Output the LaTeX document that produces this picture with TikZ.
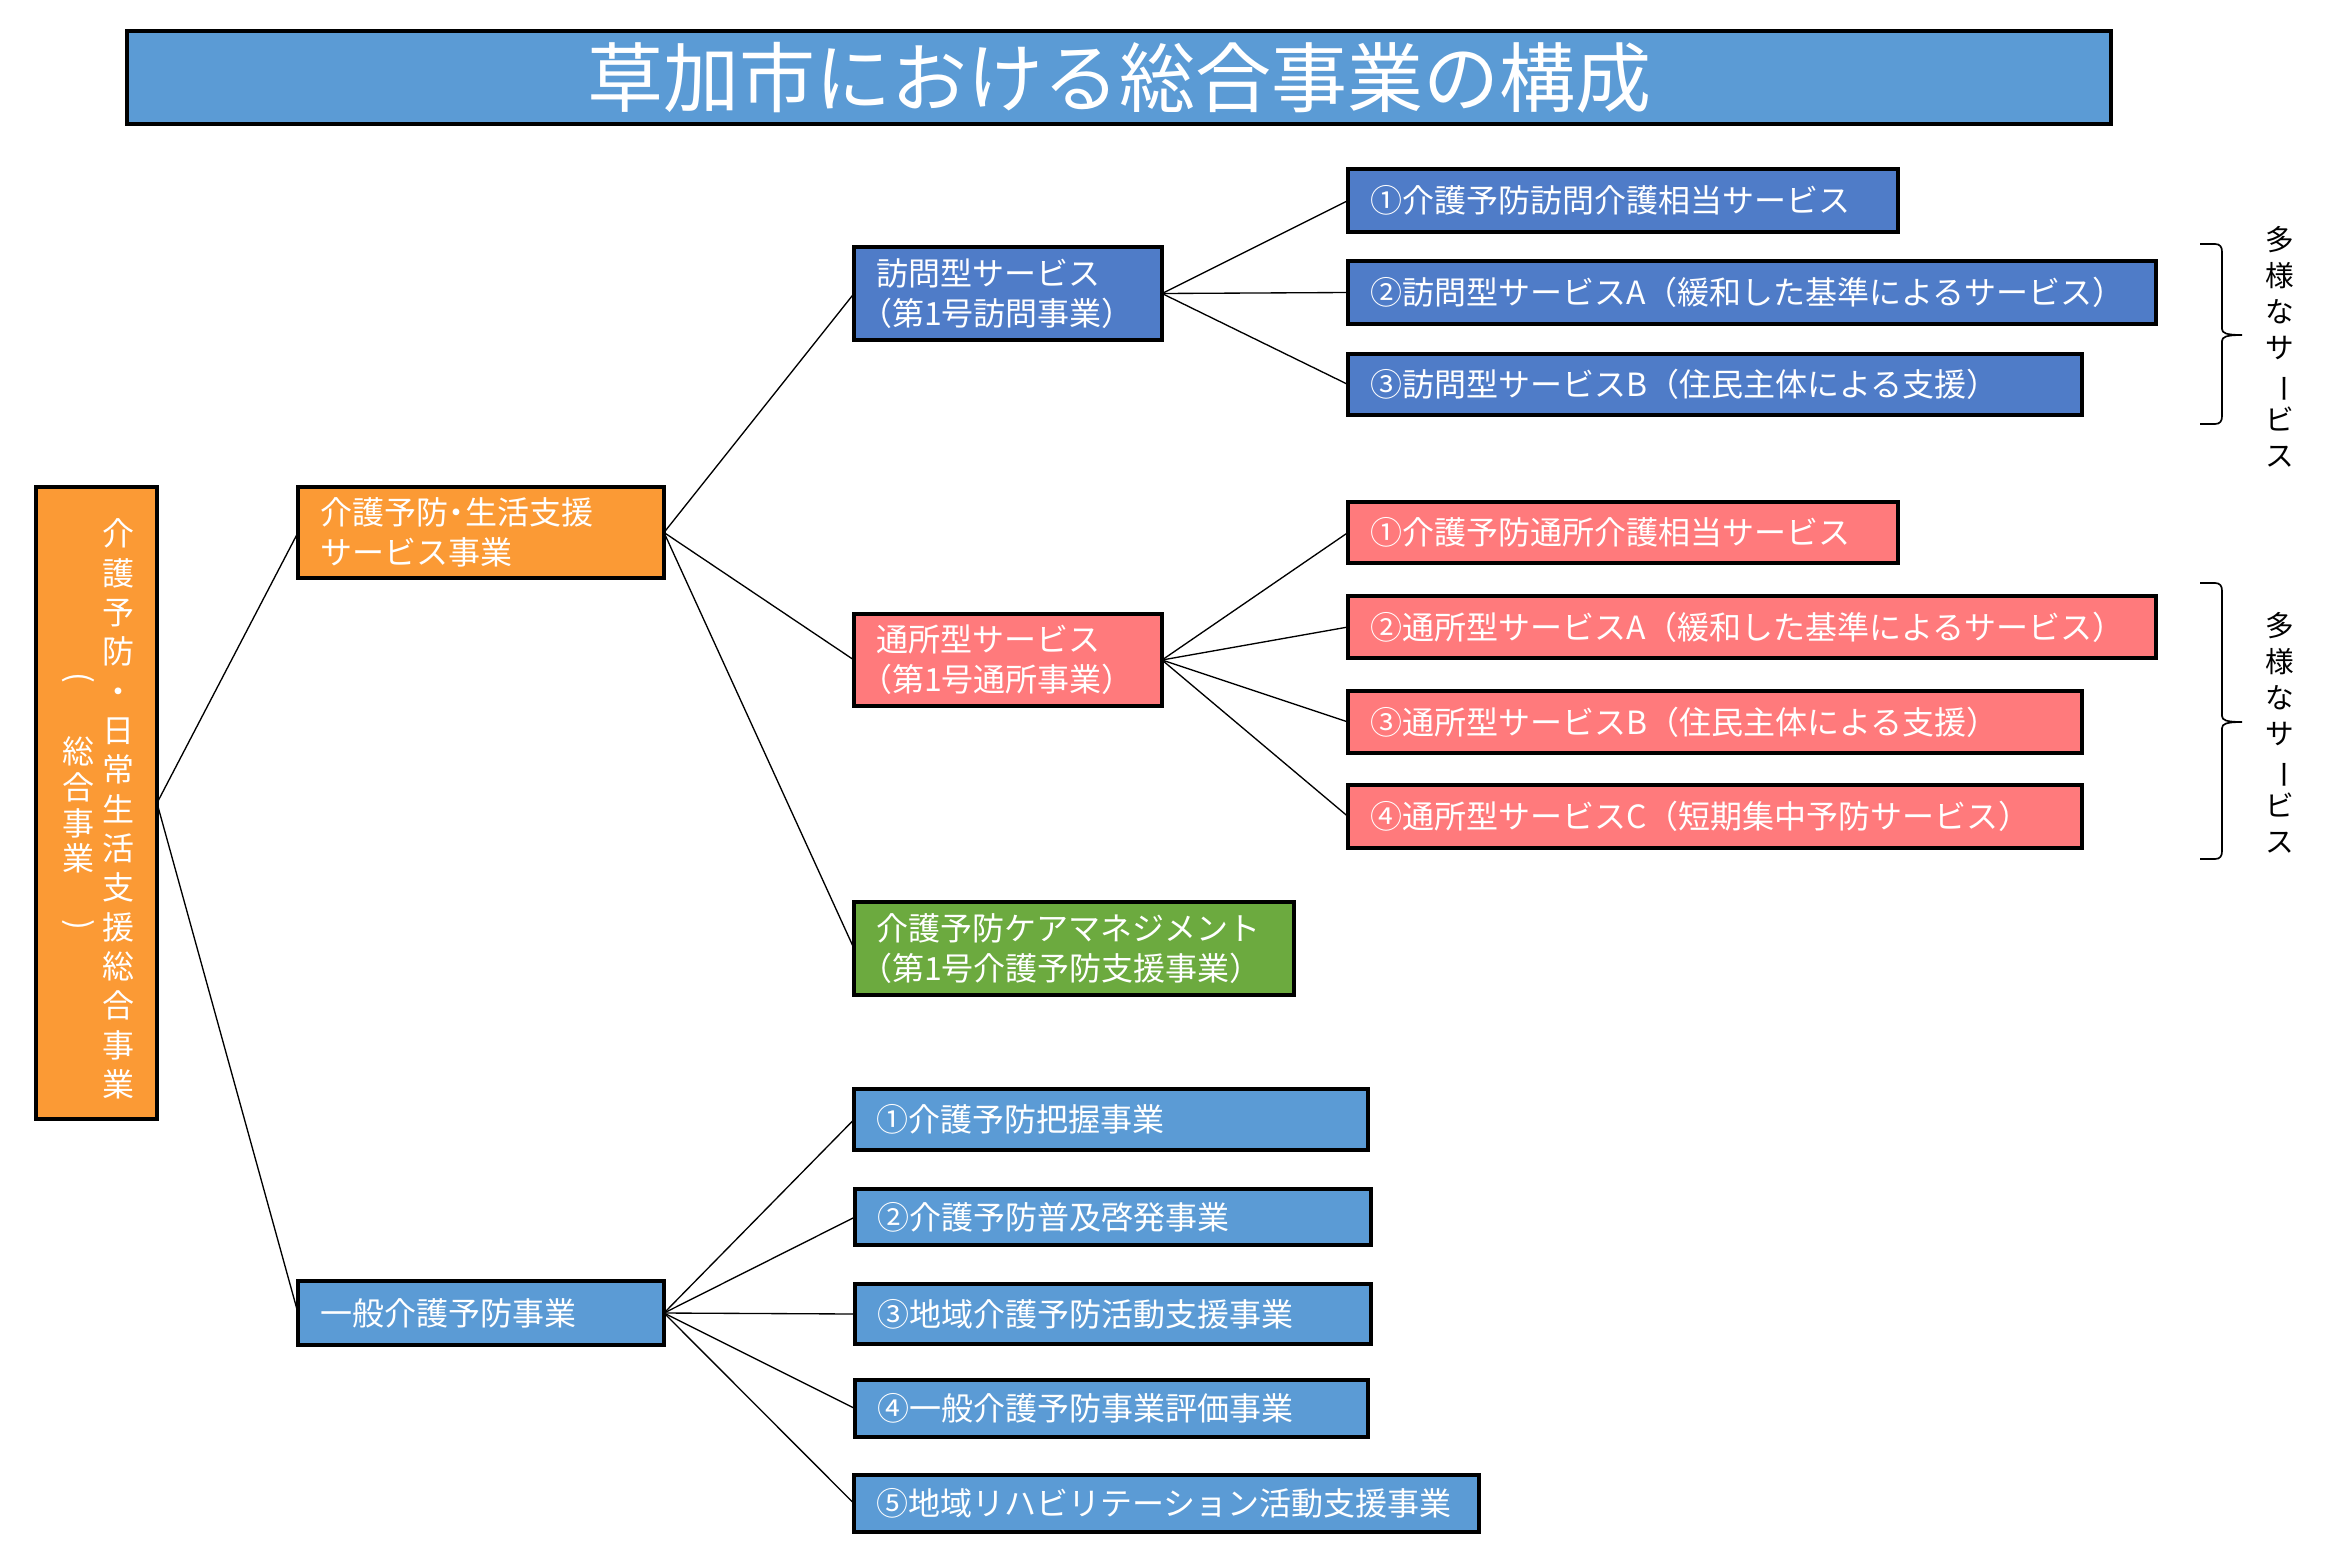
\documentclass[tikz,border=0pt]{standalone}
\usepackage{fontspec}
\setmainfont{Noto Sans CJK JP}
\usepackage{graphicx}
\definecolor{cTitle}{HTML}{5B9BD5}
\definecolor{cBlue}{HTML}{5B9BD5}
\definecolor{cDBlue}{HTML}{4F7CC8}
\definecolor{cOrange}{HTML}{FB9A35}
\definecolor{cPink}{HTML}{FF7A7C}
\definecolor{cGreen}{HTML}{6CAA3F}
\tikzset{
  box/.style={draw=black, line width=1.2pt, text=white, inner xsep=6.6pt, inner ysep=0pt,
    outer sep=0pt, align=left, font=\fontsize{9.6}{12}\selectfont},
  link/.style={draw=black, line width=0.4pt},
  brc/.style={draw=black, line width=0.5pt},
  vtext/.style={inner sep=0pt, outer sep=0pt, align=center},
}
\newcommand\mybox[7]{%
  \pgfmathsetmacro\mbw{(#5-#3)*0.3}%
  \pgfmathsetmacro\mbh{(#6-#4)*0.3}%
  \pgfmathsetmacro\mbt{(#5-#3)*0.3-13.2}%
  \node[box,#2,minimum width=\mbw pt,minimum height=\mbh pt,text width=\mbt pt] (#1) at ({(#3+#5)/2},{(#4+#6)/2}) {#7};}
\newcommand\mybrace[3]{%
  \draw[brc] (2200,#1) -- (2215,#1) .. controls (2220,#1) and (2222,#1+3) .. (2222,#1+8)
    -- (2222,#2-6) .. controls (2222,#2-2) and (2226,#2) .. (2242,#2)
    .. controls (2226,#2) and (2222,#2+2) .. (2222,#2+6)
    -- (2222,#3-8) .. controls (2222,#3-3) and (2220,#3) .. (2215,#3) -- (2200,#3);}
\newcommand\vchouon{\rotatebox[origin=c]{-90}{ー}}
\newcommand\lpar{\hspace{-0.5em}（}
\newcommand\ndot{\hspace{-0.22em}・\hspace{-0.22em}}
\begin{document}
\begin{tikzpicture}[x=0.3pt,y=-0.3pt]
\useasboundingbox (0,0) rectangle (2349,1565);
% title
\mybox{title}{fill=cTitle,align=center,font=\fontsize{22.8}{26}\selectfont}{127}{31}{2111}{124}{草加市における総合事業の構成}
% root
\node[box,fill=cOrange,minimum width=36.3pt,minimum height=189.6pt] (root) at (96.5,803) {};
\node[vtext,text=white,font=\fontsize{9.6}{11.8}\selectfont] (rootmain) at (118,809)
  {介\\護\\予\\防\\・\\日\\常\\生\\活\\支\\援\\総\\合\\事\\業};
\node[vtext,text=white,font=\fontsize{9.6}{11.8}\selectfont] (rootlp) at (78,680) {\rotatebox[origin=c]{-90}{(}};
\node[vtext,text=white,font=\fontsize{9.6}{10.7}\selectfont] (rootsub) at (78,805) {総\\合\\事\\業};
\node[vtext,text=white,font=\fontsize{9.6}{11.8}\selectfont] (rootrp) at (78,927) {\rotatebox[origin=c]{-90}{)}};
% level 1
\mybox{A}{fill=cOrange}{298}{487}{664}{578}{介護予防\ndot 生活支援\\サービス事業}
\mybox{B}{fill=cBlue}{298}{1281}{664}{1345}{一般介護予防事業}
% level 2
\mybox{H}{fill=cDBlue}{854}{247}{1162}{340}{訪問型サービス\\\lpar 第1号訪問事業）}
\mybox{T}{fill=cPink}{854}{614}{1162}{706}{通所型サービス\\\lpar 第1号通所事業）}
\mybox{C}{fill=cGreen}{854}{902}{1294}{995}{介護予防ケアマネジメント\\\lpar 第1号介護予防支援事業）}
% visit items
\mybox{H1}{fill=cDBlue}{1348}{169}{1898}{232}{①介護予防訪問介護相当サービス}
\mybox{H2}{fill=cDBlue}{1348}{261}{2156}{324}{②訪問型サービスA（緩和した基準によるサービス）}
\mybox{H3}{fill=cDBlue}{1348}{354}{2082}{415}{③訪問型サービスB（住民主体による支援）}
% day items
\mybox{T1}{fill=cPink}{1348}{502}{1898}{563}{①介護予防通所介護相当サービス}
\mybox{T2}{fill=cPink}{1348}{596}{2156}{658}{②通所型サービスA（緩和した基準によるサービス）}
\mybox{T3}{fill=cPink}{1348}{691}{2082}{753}{③通所型サービスB（住民主体による支援）}
\mybox{T4}{fill=cPink}{1348}{785}{2082}{848}{④通所型サービスC（短期集中予防サービス）}
% general items
\mybox{G1}{fill=cBlue}{854}{1089}{1368}{1150}{①介護予防把握事業}
\mybox{G2}{fill=cBlue}{855}{1189}{1371}{1245}{②介護予防普及啓発事業}
\mybox{G3}{fill=cBlue}{855}{1284}{1371}{1344}{③地域介護予防活動支援事業}
\mybox{G4}{fill=cBlue}{855}{1380}{1368}{1437}{④一般介護予防事業評価事業}
\mybox{G5}{fill=cBlue}{854}{1475}{1479}{1532}{⑤地域リハビリテーション活動支援事業}
% connectors
\draw[link] (root.east) -- (A.west);
\draw[link] (root.east) -- (B.west);
\draw[link] (A.east) -- (H.west);
\draw[link] (A.east) -- (T.west);
\draw[link] (A.east) -- (C.west);
\foreach \n in {H1,H2,H3} \draw[link] (H.east) -- (\n.west);
\foreach \n in {T1,T2,T3,T4} \draw[link] (T.east) -- (\n.west);
\foreach \n in {G1,G2,G3,G4,G5} \draw[link] (B.east) -- (\n.west);
% braces and side labels
\mybrace{244}{335}{424}
\mybrace{583}{722}{859}
\node[vtext,font=\fontsize{8.6}{10.8}\selectfont] (div1) at (2280,347) {多\\様\\な\\サ\\\vchouon\\ビ\\ス};
\node[vtext,font=\fontsize{8.6}{10.8}\selectfont] (div2) at (2280,733) {多\\様\\な\\サ\\\vchouon\\ビ\\ス};
\end{tikzpicture}
\end{document}
